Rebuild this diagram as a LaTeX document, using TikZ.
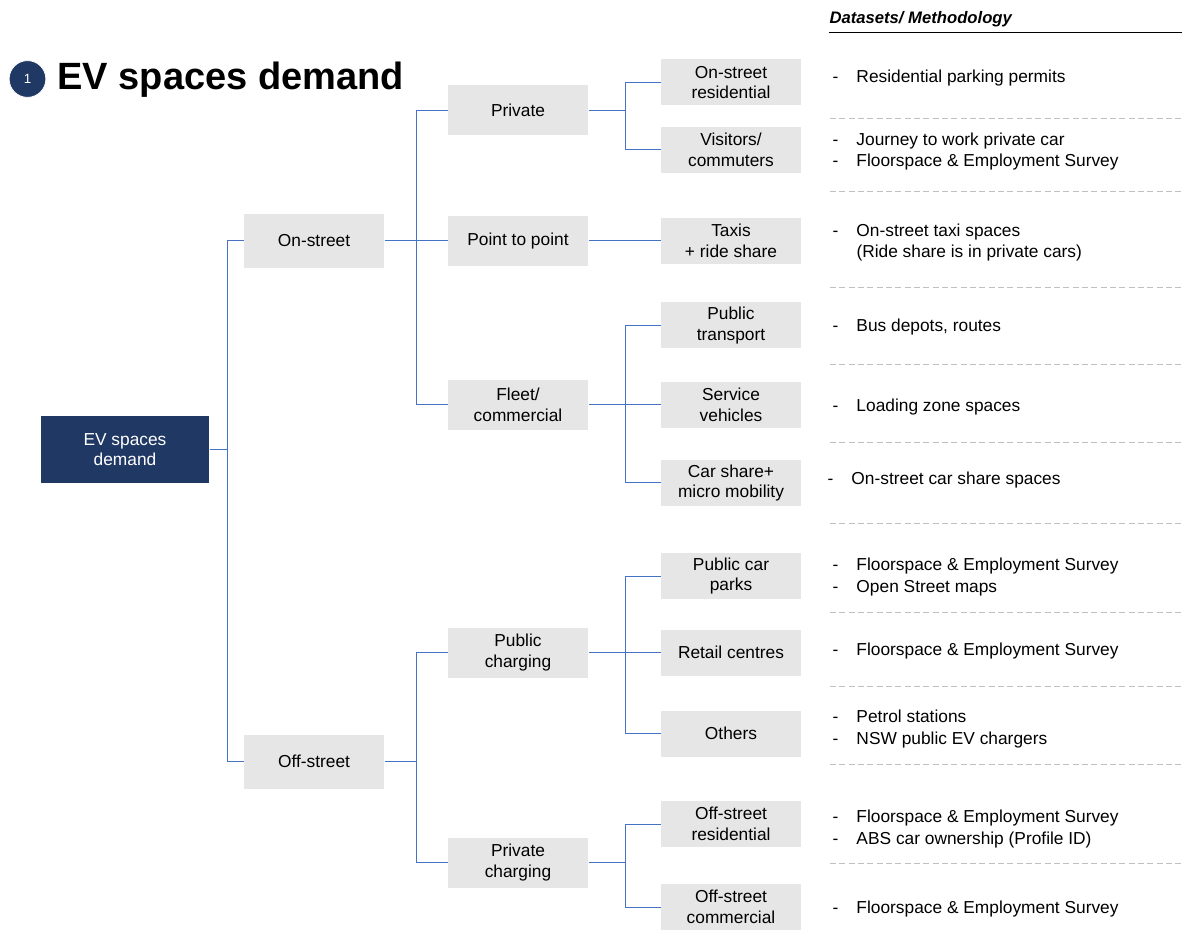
\documentclass[tikz,border=0pt]{standalone}
\usepackage{fontspec}
\setmainfont{Liberation Sans}

\newcommand{\dsline}[1]{\makebox[18pt][l]{-}#1}

\tikzset{every picture/.style={line width=0.75pt}}
\tikzset{
  boxfont/.style={font=\fontsize{13}{15.5}\selectfont},
  rootbox/.style={boxfont, fill={rgb, 255:red, 31; green, 56; blue, 100 }, text=white, minimum width=126pt, minimum height=50.25pt, inner sep=0.75pt, align=center},
  greybox/.style={boxfont, fill={rgb, 255:red, 231; green, 230; blue, 230 }, minimum width=105pt, inner sep=0.75pt, align=center},
  lvlone/.style={greybox, minimum height=40.5pt},
  lvltwo/.style={greybox, minimum height=37.5pt},
  lvlthree/.style={greybox, minimum height=34.5pt},
  dstext/.style={font=\fontsize{13}{16}\selectfont, anchor=west, inner sep=0.75pt, align=left},
  link/.style={color={rgb, 255:red, 68; green, 114; blue, 196 }, line width=0.75pt},
  sepline/.style={color={rgb, 255:red, 191; green, 191; blue, 191 }, dash pattern={on 4.5pt off 2.5pt}, line width=0.6pt}
}

\begin{document}
\begin{tikzpicture}[x=0.75pt,y=0.75pt,yscale=-1,xscale=1]
\useasboundingbox (0,0) rectangle (1182,930);

% Title
\node [circle, fill={rgb, 255:red, 31; green, 56; blue, 100 }, draw=white, line width=0.5pt, minimum size=27.5pt, inner sep=0pt, text=white, font=\fontsize{10}{11}\selectfont] (num) at (27.5,79) {1};
\node [anchor=base west, inner sep=0.75pt, font=\fontsize{28.5}{32}\selectfont\bfseries] (title) at (56,90) {EV spaces demand};

% Column header
\node [anchor=base west, inner sep=0.75pt, font=\fontsize{12.5}{14}\selectfont\bfseries\itshape] (head) at (828,24) {Datasets/ Methodology};
\draw (829,33) -- (1182,33) ;

%Shape: Root
\node [rootbox] (root) at (125,449.5) {EV spaces\\demand};

%Shape: Level 1
\node [lvlone] (onst) at (314,241) {On-street};
\node [lvlone] (offst) at (314,761.5) {Off-street};

%Shape: Level 2
\node [lvltwo] (priv) at (518,110.5) {Private};
\node [lvltwo] (p2p) at (518,241) {Point to point};
\node [lvltwo] (fleet) at (518,405) {Fleet/\\commercial};
\node [lvltwo] (pubchg) at (518,652.5) {Public\\charging};
\node [lvltwo] (privchg) at (518,862.5) {Private\\charging};

%Shape: Level 3
\node [lvlthree] (onres) at (731,82.5) {On-street\\residential};
\node [lvlthree] (visit) at (731,150) {Visitors/\\commuters};
\node [lvlthree] (taxi) at (731,241) {Taxis\\+ ride share};
\node [lvlthree] (pubtr) at (731,325.5) {Public\\transport};
\node [lvlthree] (servv) at (731,405) {Service\\vehicles};
\node [lvlthree] (carsh) at (731,483) {Car share+\\micro mobility};
\node [lvlthree] (pcp) at (731,576) {Public car\\parks};
\node [lvlthree] (retail) at (731,652.5) {Retail centres};
\node [lvlthree] (others) at (731,733.5) {Others};
\node [lvlthree] (offres) at (731,824) {Off-street\\residential};
\node [lvlthree] (offcom) at (731,907) {Off-street\\commercial};

% Junctions
\coordinate (j0) at (227,449.5);
\coordinate (j1) at (416,241);
\coordinate (j2) at (416,761.5);
\coordinate (j3) at (625,110.5);
\coordinate (j4) at (625,405);
\coordinate (j5) at (625,652.5);
\coordinate (j6) at (625,862.5);

% Connectors
\draw [link] (root.east) -- (j0) ;
\draw [link] (j0) |- (onst.west) ;
\draw [link] (j0) |- (offst.west) ;
\draw [link] (onst.east) -- (p2p.west) ;
\draw [link] (j1) |- (priv.west) ;
\draw [link] (j1) |- (fleet.west) ;
\draw [link] (offst.east) -- (j2) ;
\draw [link] (j2) |- (pubchg.west) ;
\draw [link] (j2) |- (privchg.west) ;
\draw [link] (priv.east) -- (j3) ;
\draw [link] (j3) |- (onres.west) ;
\draw [link] (j3) |- (visit.west) ;
\draw [link] (p2p.east) -- (taxi.west) ;
\draw [link] (fleet.east) -- (servv.west) ;
\draw [link] (j4) |- (pubtr.west) ;
\draw [link] (j4) |- (carsh.west) ;
\draw [link] (pubchg.east) -- (retail.west) ;
\draw [link] (j5) |- (pcp.west) ;
\draw [link] (j5) |- (others.west) ;
\draw [link] (privchg.east) -- (j6) ;
\draw [link] (j6) |- (offres.west) ;
\draw [link] (j6) |- (offcom.west) ;

% Text Node
\node [dstext] (ds1) at (831,78) {\dsline{Residential parking permits}};
\node [dstext] (ds2) at (831,151.5) {\dsline{Journey to work private car}\\\dsline{Floorspace \& Employment Survey}};
\node [dstext] (ds3) at (831,242.5) {\dsline{On-street taxi spaces}\\\hspace*{18pt}(Ride share is in private cars)};
\node [dstext] (ds4) at (831,327.5) {\dsline{Bus depots, routes}};
\node [dstext] (ds5) at (831,407) {\dsline{Loading zone spaces}};
\node [dstext] (ds6) at (826,480) {\dsline{On-street car share spaces}};
\node [dstext] (ds7) at (831,577) {\dsline{Floorspace \& Employment Survey}\\\dsline{Open Street maps}};
\node [dstext] (ds8) at (831,651) {\dsline{Floorspace \& Employment Survey}};
\node [dstext] (ds9) at (831,729) {\dsline{Petrol stations}\\\dsline{NSW public EV chargers}};
\node [dstext] (ds10) at (831,829) {\dsline{Floorspace \& Employment Survey}\\\dsline{ABS car ownership (Profile ID)}};
\node [dstext] (ds11) at (831,909) {\dsline{Floorspace \& Employment Survey}};

%Shape: Separators
\draw [sepline] (830,118) -- (1182,118) ;
\draw [sepline] (830,191) -- (1182,191) ;
\draw [sepline] (830,287) -- (1182,287) ;
\draw [sepline] (830,364) -- (1182,364) ;
\draw [sepline] (830,442) -- (1182,442) ;
\draw [sepline] (830,523) -- (1182,523) ;
\draw [sepline] (830,612) -- (1182,612) ;
\draw [sepline] (830,686) -- (1182,686) ;
\draw [sepline] (830,764) -- (1182,764) ;
\draw [sepline] (830,863) -- (1182,863) ;

\end{tikzpicture}
\end{document}
